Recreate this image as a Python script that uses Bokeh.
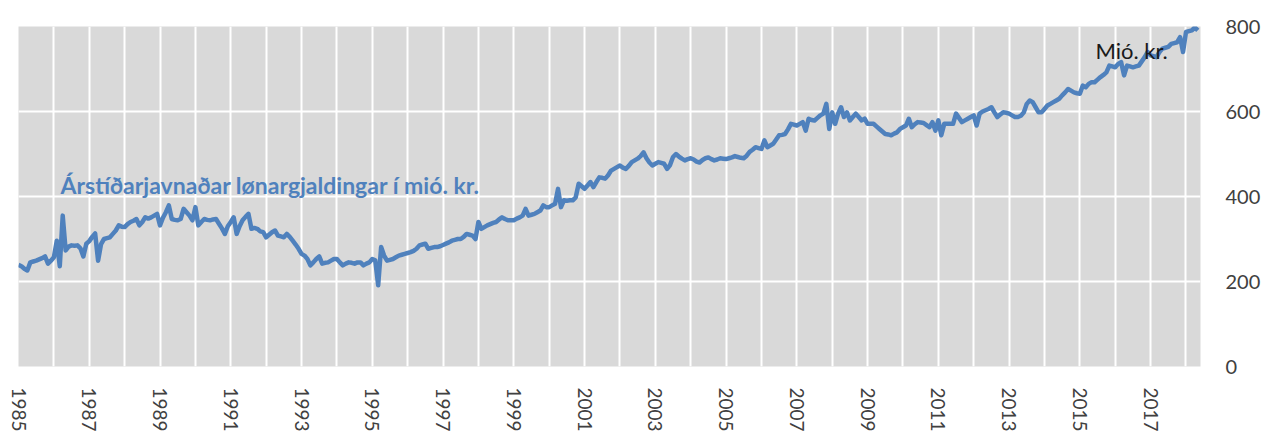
import math
from bokeh.plotting import figure
from bokeh.models import Range1d, FixedTicker, Label, ColumnDataSource
from bokeh.embed import file_html
from bokeh.resources import INLINE

# Monthly seasonally adjusted wage payments (mió. kr.), Jan 1985 - May 2018
start_year = 1985
v1985 = [239, 236, 230, 226, 245, 247, 249, 252, 255, 259, 242, 249]
v1986 = [257, 296, 236, 355, 273, 282, 285, 284, 285, 278, 259, 289]
v1987 = [295, 305, 313, 249, 288, 300, 302, 304, 312, 320, 332, 329]
v1988 = [328, 335, 340, 343, 347, 332, 340, 351, 348, 351, 355, 359]
v1989 = [332, 350, 363, 379, 347, 345, 344, 347, 371, 363, 355, 344]
v1990 = [375, 332, 340, 347, 345, 344, 346, 347, 336, 325, 312, 330]
v1991 = [340, 351, 312, 330, 344, 352, 359, 324, 326, 324, 318, 316]
v1992 = [304, 310, 316, 320, 308, 306, 304, 312, 305, 296, 287, 277]
v1993 = [265, 261, 253, 238, 245, 253, 259, 242, 244, 245, 249, 253]
v1994 = [253, 245, 238, 242, 245, 244, 242, 245, 245, 238, 242, 245]
v1995 = [253, 250, 191, 281, 261, 249, 251, 253, 257, 261, 263, 265]
v1996 = [267, 269, 272, 277, 285, 287, 289, 277, 279, 281, 281, 283]
v1997 = [286, 289, 292, 296, 298, 300, 300, 305, 312, 310, 308, 300]
v1998 = [340, 324, 328, 332, 335, 338, 340, 346, 351, 347, 344, 344]
v1999 = [344, 348, 351, 355, 371, 355, 357, 359, 363, 367, 379, 375]
v2000 = [375, 379, 383, 418, 375, 391, 390, 391, 391, 398, 430, 424]
v2001 = [418, 426, 434, 422, 434, 445, 444, 442, 450, 461, 465, 469]
v2002 = [473, 468, 465, 472, 481, 485, 489, 495, 504, 490, 480, 473]
v2003 = [477, 481, 479, 477, 465, 474, 493, 500, 494, 489, 485, 488]
v2004 = [490, 487, 482, 480, 486, 490, 492, 488, 485, 487, 490, 489]
v2005 = [488, 490, 492, 495, 493, 491, 490, 496, 505, 510, 516, 514]
v2006 = [512, 532, 516, 520, 524, 534, 544, 545, 547, 558, 571, 569]
v2007 = [567, 571, 575, 555, 583, 580, 579, 585, 591, 595, 618, 559]
v2008 = [598, 571, 595, 610, 587, 598, 579, 587, 595, 587, 579, 583]
v2009 = [571, 571, 571, 565, 559, 553, 547, 546, 544, 548, 551, 559]
v2010 = [563, 567, 583, 563, 570, 575, 574, 573, 568, 563, 575, 555]
v2011 = [579, 544, 571, 571, 571, 571, 595, 585, 575, 579, 583, 587]
v2012 = [591, 567, 595, 600, 603, 606, 610, 598, 587, 593, 598, 597]
v2013 = [595, 591, 587, 587, 590, 598, 618, 626, 622, 610, 598, 598]
v2014 = [606, 614, 618, 622, 626, 630, 638, 645, 653, 649, 645, 643]
v2015 = [642, 661, 657, 665, 669, 669, 675, 681, 686, 692, 708, 706]
v2016 = [704, 712, 716, 685, 708, 706, 704, 706, 708, 718, 728, 740]
v2017 = [732, 730, 728, 740, 748, 750, 752, 759, 761, 763, 775, 740]
v2018 = [787, 789, 791, 798, 791]

values = (v1985 + v1986 + v1987 + v1988 + v1989 + v1990 + v1991 + v1992 +
          v1993 + v1994 + v1995 + v1996 + v1997 + v1998 + v1999 + v2000 +
          v2001 + v2002 + v2003 + v2004 + v2005 + v2006 + v2007 + v2008 +
          v2009 + v2010 + v2011 + v2012 + v2013 + v2014 + v2015 + v2016 +
          v2017 + v2018)
months = [start_year + i / 12 for i in range(len(values))]

year_labels = list(range(1985, 2018, 2))
grid_years = list(range(1985, 2019))
y_ticks = [0, 200, 400, 600, 800]

series_label = "Árstíðarjavnaðar  lønargjaldingar  í mió. kr."
unit_label = "Mió. kr."

FONT = "Lato"
LINE_BLUE = "#4f81bd"

p = figure(frame_width=1182, frame_height=340,
           x_range=Range1d(1985.0, 2018.41), y_range=Range1d(0, 800),
           y_axis_location="right", output_backend="svg",
           toolbar_location=None,
           min_border_left=18, min_border_top=26,
           min_border_right=4, min_border_bottom=3)

p.background_fill_color = "#d9d9d9"
p.border_fill_color = "white"
p.outline_line_color = None

src = ColumnDataSource(dict(x=months, y=values))
p.line("x", "y", source=src, line_color=LINE_BLUE, line_width=4.5,
       line_join="round")

# grids
p.xgrid.ticker = FixedTicker(ticks=grid_years)
p.xgrid.grid_line_color = "white"
p.xgrid.grid_line_width = 2
p.ygrid.ticker = FixedTicker(ticks=y_ticks)
p.ygrid.grid_line_color = "white"
p.ygrid.grid_line_width = 2

# x axis
xa = p.xaxis[0]
xa.ticker = FixedTicker(ticks=year_labels)
xa.major_label_overrides = {y: str(y) for y in year_labels}
xa.major_label_orientation = -math.pi / 2
xa.axis_line_color = None
xa.major_tick_line_color = None
xa.minor_tick_line_color = None
xa.major_label_standoff = 15
xa.major_label_text_font = FONT
xa.major_label_text_font_size = "19px"
xa.major_label_text_color = "#404040"

# y axis (right)
ya = p.yaxis[0]
ya.ticker = FixedTicker(ticks=y_ticks)
ya.axis_line_color = None
ya.major_tick_line_color = None
ya.minor_tick_line_color = None
ya.major_label_standoff = 19
ya.major_label_text_font = FONT
ya.major_label_text_font_size = "20px"
ya.major_label_text_color = "#404040"

p.add_layout(Label(x=1986.19, y=426, text=series_label, text_font=FONT,
                   text_font_size="23px", text_font_style="bold",
                   text_color=LINE_BLUE, text_baseline="alphabetic"))
p.add_layout(Label(x=2015.44, y=743, text=unit_label, text_font=FONT,
                   text_font_size="22px", text_color="#1a1a1a",
                   text_baseline="alphabetic"))

open("out.html", "w").write(file_html(p, INLINE))
